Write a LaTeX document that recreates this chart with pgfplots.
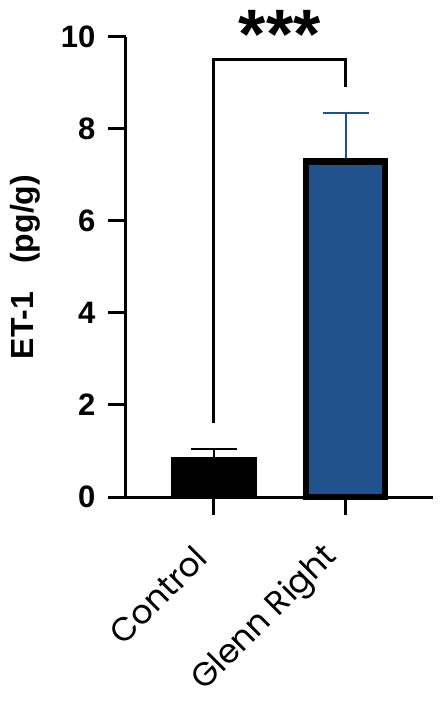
\documentclass[border=0pt]{standalone}
\usepackage{pgfplots}
\pgfplotsset{compat=1.18}
\usepackage{fontspec}
\setmainfont{Liberation Sans}
\newfontfamily\catfont{Poppins}
\definecolor{glennblue}{RGB}{34,82,140}

\begin{document}
\begin{tikzpicture}
\begin{axis}[
  scale only axis,
  width=307pt, height=460pt,
  xmin=-0.669, xmax=1.665,
  ymin=0, ymax=10,
  clip=false,
  axis x line*=bottom, axis y line*=left,
  axis line style={line width=3pt, -},
  xtick={0,1},
  xticklabels={Control, Glenn Right},
  ytick={0,2,4,6,8,10},
  tick style={line width=3pt, black},
  major tick length=18pt,
  tick align=outside,
  /pgf/number format/assume math mode=true,
  yticklabel style={xshift=-9pt, font=\fontsize{31}{31}\selectfont\bfseries},
  xticklabel style={at={(axis cs:\tick,0)}, xshift=-13pt, yshift=-37pt, rotate=45, anchor=east, inner sep=0pt,
    font=\fontsize{33}{33}\catfont},
  ylabel={ET-1\hspace{28pt}(pg/g)},
  ylabel style={font=\fontsize{32}{32}\selectfont\bfseries,
    at={(axis description cs:-0.300,0.5)}, anchor=base},
]
\coordinate (O) at (rel axis cs:0,0);

% Control
\addplot[ybar, bar shift=0pt, bar width=85pt, fill=black, draw=black, line width=1pt,
  error bars/.cd, y dir=plus, y explicit,
  error bar style={line width=2pt, black},
  error mark options={rotate=90, mark size=23pt, line width=2pt, black}]
  coordinates {(0,0.85) +- (0,0.195)};

% Glenn Right
\addplot[ybar, bar shift=0pt, bar width=79pt, fill=glennblue, draw=black, line width=6.5pt,
  error bars/.cd, y dir=plus, y explicit,
  error bar style={line width=2pt, glennblue, shorten <=3.2pt},
  error mark options={rotate=90, mark size=23pt, line width=2pt, glennblue}]
  coordinates {(1,7.29) +- (0,1.05)};

% significance bracket
\draw[line width=3pt] (axis cs:0,1.61) -- (axis cs:0,9.52) -- (axis cs:1,9.52) -- (axis cs:1,8.91);
\node[anchor=base, inner sep=0pt, font=\fontsize{70}{70}\selectfont\bfseries] at (axis cs:0.5,9.54) {***};
\end{axis}
\pgfresetboundingbox
\path[use as bounding box] ([shift={(-126pt,-211pt)}]O) rectangle ([shift={(314pt,497pt)}]O);
\end{tikzpicture}
\end{document}
